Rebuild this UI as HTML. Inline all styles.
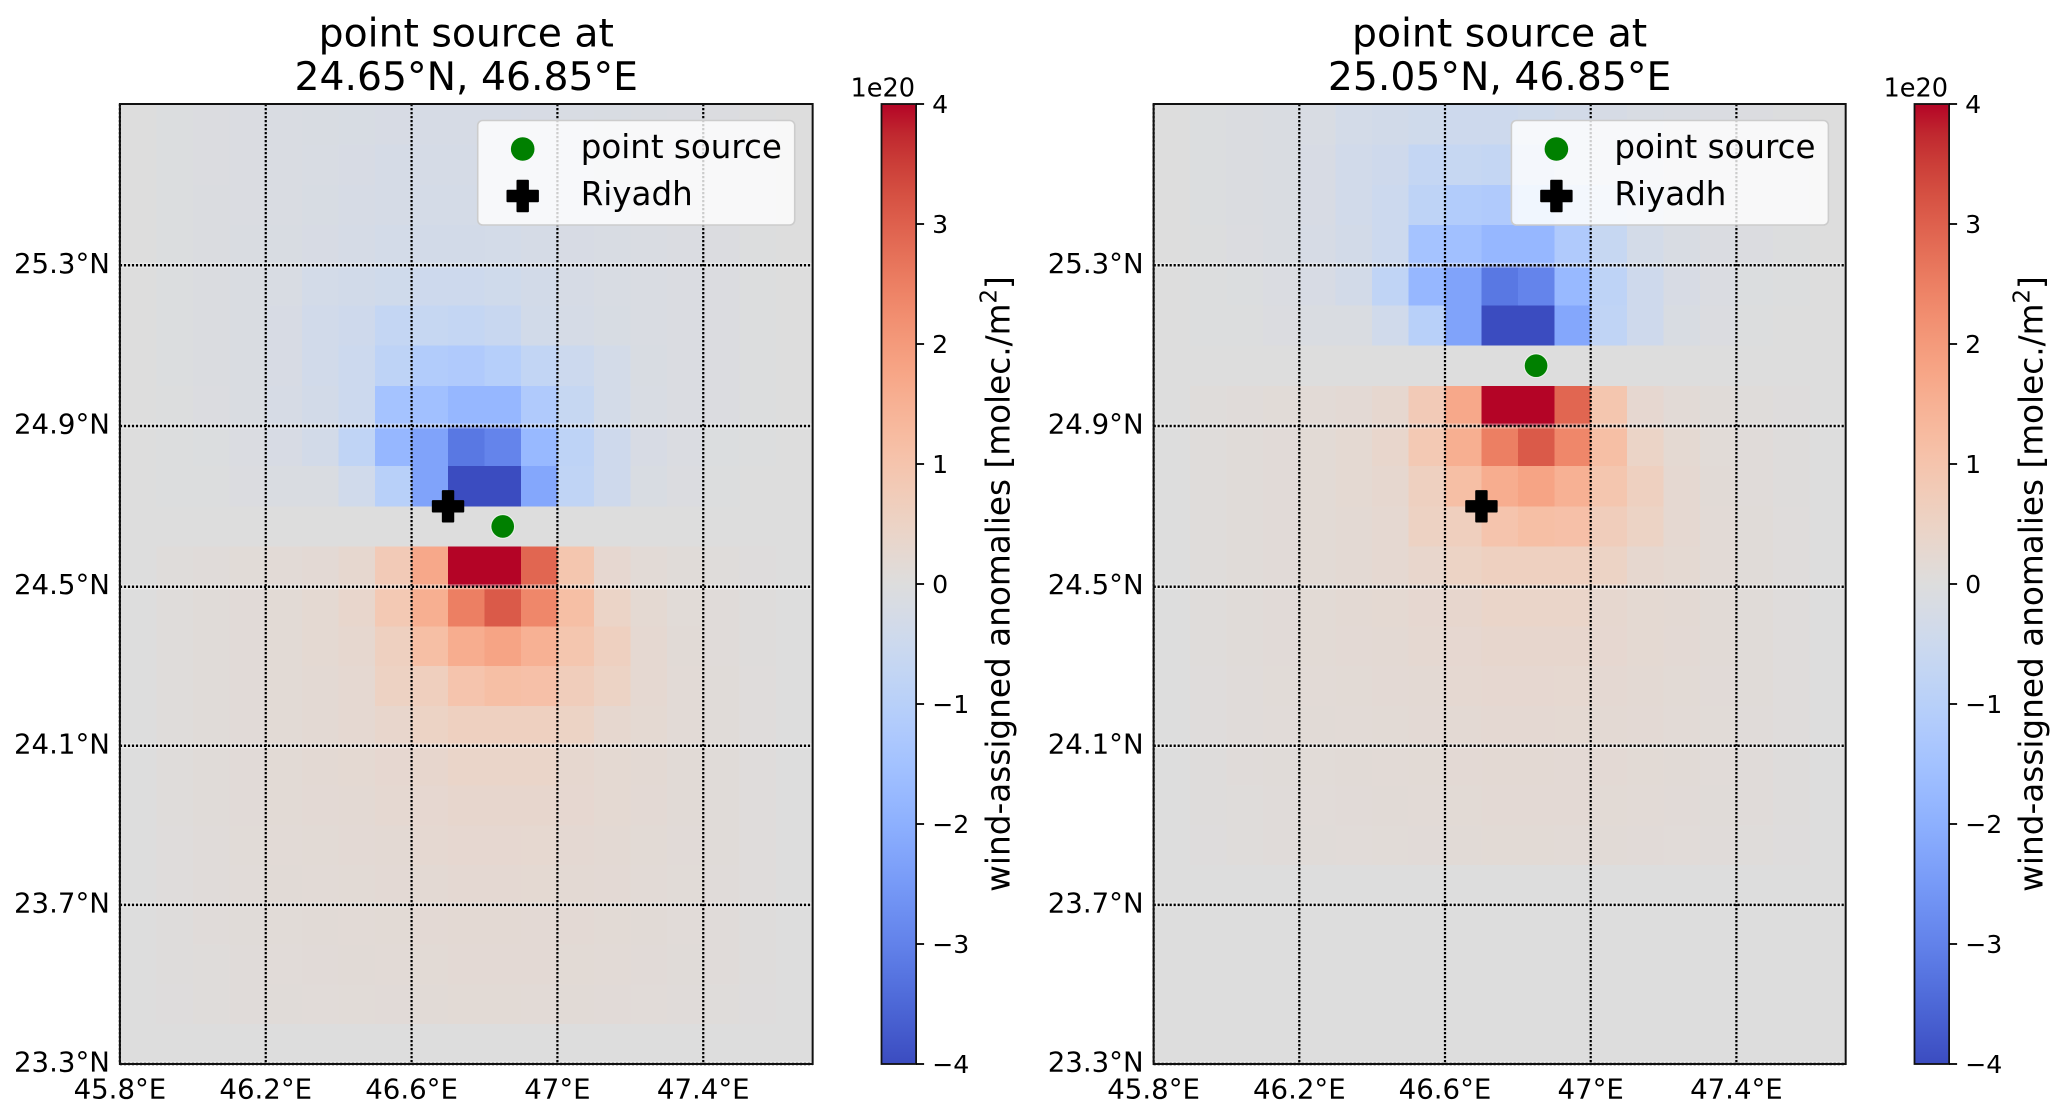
<!DOCTYPE html>
<html lang="en">
<head>
<meta charset="utf-8">
<title>Wind-assigned anomalies for two point sources</title>
<style>
  html, body { margin: 0; padding: 0; background: #ffffff; }
  svg { display: block; }
  text { font-family: "DejaVu Sans", "Liberation Sans", sans-serif; fill: #000; }
</style>
</head>
<body>
<svg id="figure" xmlns="http://www.w3.org/2000/svg" width="2067" height="1118" viewBox="0 0 2067 1118">
  <defs>
    <linearGradient id="coolwarm-gradient" x1="0" y1="1" x2="0" y2="0"></linearGradient>
  </defs>
  <rect x="0" y="0" width="2067" height="1118" fill="#ffffff"/>
  <g id="panel-left"></g>
  <g id="panel-right"></g>
</svg>
<script>
// ---- data (units of 1e20 molec./m2) ----
const lonStart = 45.8;
const latStart = 25.7;
const cellSize = 0.1;

const lonTicks = [45.8, 46.2, 46.6, 47.0, 47.4];
const lonTickLabels = ["45.8°E", "46.2°E", "46.6°E", "47°E", "47.4°E"];
const latTicks = [25.3, 24.9, 24.5, 24.1, 23.7, 23.3];
const latTickLabels = ["25.3°N", "24.9°N", "24.5°N", "24.1°N", "23.7°N", "23.3°N"];
const cbarTicks = [4, 3, 2, 1, 0, -1, -2, -3, -4];
const cbarTickLabels = ["4", "3", "2", "1", "0", "−1", "−2", "−3", "−4"];

const riyadhLocation = [46.7, 24.7];
const leftSourceLocation = [46.85, 24.65];
const rightSourceLocation = [46.85, 25.05];
const leftTitleLines = ["point source at", "24.65°N, 46.85°E"];
const rightTitleLines = ["point source at", "25.05°N, 46.85°E"];

const leftValues = [
  [0,-.05,-.07,-.1,-.13,-.15,-.18,-.2,-.22,-.22,-.22,-.2,-.17,-.15,-.12,-.1,-.07,-.04,0],
  [0,-.05,-.07,-.1,-.13,-.16,-.2,-.24,-.25,-.25,-.25,-.22,-.18,-.15,-.12,-.1,-.07,-.04,0],
  [0,-.05,-.08,-.1,-.14,-.18,-.22,-.26,-.28,-.28,-.28,-.24,-.2,-.16,-.12,-.1,-.07,-.04,0],
  [0,-.05,-.08,-.11,-.15,-.2,-.26,-.3,-.32,-.32,-.3,-.26,-.2,-.16,-.13,-.1,-.07,-.04,0],
  [0,-.05,-.08,-.12,-.16,-.3,-.35,-.42,-.48,-.47,-.42,-.32,-.22,-.17,-.13,-.1,-.07,-.04,0],
  [0,-.05,-.08,-.12,-.2,-.36,-.45,-.7,-.65,-.7,-.6,-.35,-.25,-.18,-.13,-.1,-.07,-.04,0],
  [0,-.05,-.08,-.12,-.2,-.36,-.5,-.85,-1.15,-1.2,-1.05,-.75,-.5,-.3,-.15,-.1,-.07,-.04,0],
  [0,-.04,-.07,-.12,-.22,-.32,-.5,-1.45,-1.55,-1.8,-1.8,-1.2,-.65,-.3,-.17,-.1,-.07,-.03,0],
  [0,-.03,-.06,-.1,-.2,-.32,-.8,-1.8,-2.3,-3.2,-2.95,-1.75,-.85,-.45,-.2,-.1,-.05,-.02,0],
  [0,-.02,-.04,-.07,-.12,-.12,-.4,-1.0,-2.3,-4,-4,-2.2,-.8,-.45,-.15,-.07,-.03,-.01,0],
  [0,0,0,0,0,0,0,0,0,0,0,0,0,0,0,0,0,0,0],
  [0,.06,.09,.12,.15,.18,.3,.8,1.7,4,4,2.9,.95,.28,.15,.1,.07,.03,0],
  [0,.06,.1,.13,.16,.22,.35,.85,1.55,2.5,3.1,2.35,1.15,.45,.22,.12,.08,.04,0],
  [0,.06,.1,.13,.17,.22,.3,.6,1.15,1.6,1.8,1.5,.95,.6,.24,.14,.09,.04,0],
  [0,.07,.1,.13,.17,.2,.26,.55,.65,1.0,1.15,1.1,.7,.5,.24,.15,.1,.05,0],
  [0,.07,.1,.13,.17,.2,.24,.35,.5,.6,.6,.6,.5,.3,.22,.15,.1,.05,0],
  [0,.07,.1,.13,.17,.2,.22,.28,.33,.42,.42,.42,.3,.22,.2,.14,.1,.05,0],
  [0,.06,.1,.13,.16,.18,.2,.24,.28,.33,.33,.33,.28,.22,.18,.14,.1,.05,0],
  [0,.05,.09,.12,.15,.17,.18,.2,.24,.28,.28,.27,.23,.2,.16,.13,.1,.05,0],
  [0,.05,.08,.11,.14,.15,.17,.18,.2,.23,.23,.22,.2,.18,.15,.12,.09,.05,0],
  [0,.04,.08,.1,.12,.14,.15,.17,.18,.2,.2,.19,.18,.16,.14,.11,.08,.04,0],
  [0,.04,.07,.09,.11,.13,.14,.15,.17,.18,.18,.18,.16,.15,.13,.1,.08,.04,0],
  [0,.03,.06,.08,.1,.11,.12,.13,.14,.16,.16,.15,.14,.13,.11,.09,.07,.03,0],
  [0,0,0,0,0,0,0,0,0,0,0,0,0,0,0,0,0,0,0]
];

const rightValues = [
  [0,-.05,-.08,-.12,-.16,-.3,-.35,-.42,-.48,-.47,-.42,-.32,-.22,-.17,-.13,-.1,-.07,-.04,0],
  [0,-.05,-.08,-.12,-.2,-.36,-.45,-.7,-.65,-.7,-.6,-.35,-.25,-.18,-.13,-.1,-.07,-.04,0],
  [0,-.05,-.08,-.12,-.2,-.36,-.5,-.85,-1.15,-1.2,-1.05,-.75,-.5,-.3,-.15,-.1,-.07,-.04,0],
  [0,-.04,-.07,-.12,-.22,-.32,-.5,-1.45,-1.55,-1.8,-1.8,-1.2,-.65,-.3,-.17,-.1,-.07,-.03,0],
  [0,-.03,-.06,-.1,-.2,-.32,-.8,-1.8,-2.3,-3.2,-2.95,-1.75,-.85,-.45,-.2,-.1,-.05,-.02,0],
  [0,-.02,-.04,-.07,-.12,-.12,-.4,-1.0,-2.3,-4,-4,-2.2,-.8,-.45,-.15,-.07,-.03,-.01,0],
  [0,0,0,0,0,0,0,0,0,0,0,0,0,0,0,0,0,0,0],
  [0,.06,.09,.12,.15,.18,.3,.8,1.7,4,4,2.9,.95,.28,.15,.1,.07,.03,0],
  [0,.06,.1,.13,.16,.22,.35,.85,1.55,2.5,3.1,2.35,1.15,.45,.22,.12,.08,.04,0],
  [0,.06,.1,.13,.17,.22,.3,.6,1.15,1.6,1.8,1.5,.95,.6,.24,.14,.09,.04,0],
  [0,.07,.1,.13,.17,.2,.26,.55,.65,1.0,1.15,1.1,.7,.5,.24,.15,.1,.05,0],
  [0,.07,.1,.13,.17,.2,.24,.35,.5,.6,.6,.6,.5,.3,.22,.15,.1,.05,0],
  [0,.07,.1,.13,.17,.2,.22,.28,.33,.42,.42,.42,.3,.22,.2,.14,.1,.05,0],
  [0,.06,.1,.13,.16,.18,.2,.24,.28,.33,.33,.33,.28,.22,.18,.14,.1,.05,0],
  [0,.05,.09,.12,.15,.17,.18,.2,.24,.28,.28,.27,.23,.2,.16,.13,.1,.05,0],
  [0,.05,.08,.11,.14,.15,.17,.18,.2,.23,.23,.22,.2,.18,.15,.12,.09,.05,0],
  [0,.04,.08,.1,.12,.14,.15,.17,.18,.2,.2,.19,.18,.16,.14,.11,.08,.04,0],
  [0,.04,.07,.09,.11,.13,.14,.15,.17,.18,.18,.18,.16,.15,.13,.1,.08,.04,0],
  [0,.03,.06,.08,.1,.11,.12,.13,.14,.16,.16,.15,.14,.13,.11,.09,.07,.03,0],
  [0,0,0,0,0,0,0,0,0,0,0,0,0,0,0,0,0,0,0],
  [0,0,0,0,0,0,0,0,0,0,0,0,0,0,0,0,0,0,0],
  [0,0,0,0,0,0,0,0,0,0,0,0,0,0,0,0,0,0,0],
  [0,0,0,0,0,0,0,0,0,0,0,0,0,0,0,0,0,0,0],
  [0,0,0,0,0,0,0,0,0,0,0,0,0,0,0,0,0,0,0]
];

const coolwarmStops = [
  [59,76,192],[68,90,204],[77,104,215],[87,117,225],[98,130,234],[108,142,241],[119,154,247],[130,165,251],
  [141,176,254],[152,185,255],[163,194,255],[174,201,253],[184,208,249],[194,213,244],[204,217,238],[213,219,230],
  [221,221,221],[229,216,209],[236,211,197],[241,204,185],[245,196,173],[247,187,160],[247,177,148],[247,166,135],
  [244,154,123],[241,141,111],[236,127,99],[229,112,88],[222,96,77],[213,80,66],[203,62,56],[192,40,47],[180,4,38]
];

// ---- scales ----
const NS = "http://www.w3.org/2000/svg";
const vMin = -4, vMax = 4;
const AXIS_TOP = 104, AXIS_BOTTOM = 1064;

function yLat(lat) {
  return lat >= 24.5 ? 586.7 - (lat - 24.5) * 401.8 : 586.7 + (24.5 - lat) * 397.7;
}
function yCbar(v) {
  return AXIS_BOTTOM - (v - vMin) / (vMax - vMin) * (AXIS_BOTTOM - AXIS_TOP);
}
function colorFor(v) {
  const t = Math.max(0, Math.min(1, (v - vMin) / (vMax - vMin))) * (coolwarmStops.length - 1);
  const i = Math.min(coolwarmStops.length - 2, Math.floor(t));
  const f = t - i;
  const a = coolwarmStops[i], b = coolwarmStops[i + 1];
  return "rgb(" + [0, 1, 2].map(function (k) { return Math.round(a[k] + (b[k] - a[k]) * f); }).join(",") + ")";
}
function el(parent, tag, attrs, txt) {
  const node = document.createElementNS(NS, tag);
  for (const k in attrs) node.setAttribute(k, attrs[k]);
  if (txt !== undefined) node.textContent = txt;
  parent.appendChild(node);
  return node;
}

// colorbar gradient derived from the colormap stops
const gradient = document.getElementById("coolwarm-gradient");
coolwarmStops.forEach(function (c, i) {
  el(gradient, "stop", { offset: i / (coolwarmStops.length - 1), "stop-color": "rgb(" + c.join(",") + ")" });
});

function drawPanel(group, opts) {
  const xLon = function (lon) { return opts.x0 + (lon - lonStart) * opts.pxPerDeg; };
  const right = xLon(47.7);
  const left = xLon(45.8);
  const center = (left + right) / 2;

  // heatmap cells
  const heat = el(group, "g", { "shape-rendering": "crispEdges" });
  
  
  opts.values.forEach(function (row, r) {
    row.forEach(function (v, c) {
      const x1 = xLon(lonStart + c * cellSize), x2 = xLon(lonStart + (c + 1) * cellSize);
      const y1 = yLat(latStart - r * cellSize), y2 = yLat(latStart - (r + 1) * cellSize);
      const cell = el(heat, "rect", { x: x1, y: y1, width: x2 - x1 + 0.5, height: y2 - y1 + 0.5, fill: colorFor(v) });
      
      
    });
  });

  // gridlines
  latTicks.forEach(function (lat, i) {
    const y = yLat(lat);
    const halo = el(group, "line", { x1: left, x2: right, y1: y, y2: y, stroke: "#ffffff", "stroke-width": 5, "stroke-opacity": 0.4 });
    
    
    const line = el(group, "line", { x1: left, x2: right, y1: y, y2: y, stroke: "#000", "stroke-width": 2.5, "stroke-dasharray": "2.2 1.8" });
    
    
    const label = el(group, "text", { x: left - 10, y: y + 7.5, "text-anchor": "end", "font-size": 27.6 }, latTickLabels[i]);
    
    
  });
  lonTicks.forEach(function (lon, i) {
    const x = xLon(lon);
    const line = el(group, "line", { x1: x, x2: x, y1: AXIS_TOP, y2: AXIS_BOTTOM, stroke: "#000", "stroke-width": 2.2, "stroke-dasharray": "2.2 1.8" });
    
    
    const label = el(group, "text", { x: x, y: 1098.7, "text-anchor": "middle", "font-size": 27.6 }, lonTickLabels[i]);
    
    
  });

  // markers on the map
  const riyadhX = xLon(riyadhLocation[0]), riyadhY = yLat(riyadhLocation[1]);
  const riyadh = el(group, "path", { d: plusPath(riyadhX, riyadhY), fill: "#000", stroke: "#000", "stroke-width": 2, "stroke-linejoin": "round" });
  
  
  const src = el(group, "circle", { cx: xLon(opts.source[0]), cy: yLat(opts.source[1]), r: 11.8, fill: "#008000", stroke: "#ffffff", "stroke-width": 1, "stroke-opacity": 0.8 });
  
  

  // axes frame
  const frame = el(group, "rect", { x: left, y: AXIS_TOP, width: right - left, height: AXIS_BOTTOM - AXIS_TOP, fill: "none", stroke: "#111", "stroke-width": 2 });
  
  

  // legend
  const legendX = left + 357.8;
  const legend = el(group, "g", {});
  
  
  const box = el(legend, "rect", { x: legendX, y: 120.5, width: 317, height: 104.5, rx: 5, ry: 5, fill: "#ffffff", "fill-opacity": 0.8, stroke: "#cccccc", "stroke-width": 1.6 });
  
  
  const keyX = legendX + 45;
  const keyDot = el(legend, "circle", { cx: keyX, cy: 149, r: 11.8, fill: "#008000" });
  
  
  const keyPlus = el(legend, "path", { d: plusPath(keyX, 196), fill: "#000", stroke: "#000", "stroke-width": 2, "stroke-linejoin": "round" });
  
  
  const t1 = el(legend, "text", { x: legendX + 103, y: 158, "font-size": 32.5 }, "point source");
  
  
  const t2 = el(legend, "text", { x: legendX + 103, y: 205, "font-size": 32.5 }, "Riyadh");
  
  

  // titles
  const title1 = el(group, "text", { x: center, y: 46.7, "text-anchor": "middle", "font-size": 39.3 }, opts.title[0]);
  
  
  const title2 = el(group, "text", { x: center, y: 90, "text-anchor": "middle", "font-size": 39.3 }, opts.title[1]);
  
  

  // colorbar
  const cbX = opts.cbarX, cbW = 34.6;
  const bar = el(group, "rect", { x: cbX, y: AXIS_TOP, width: cbW, height: AXIS_BOTTOM - AXIS_TOP, fill: "url(#coolwarm-gradient)", stroke: "#111", "stroke-width": 1.8 });
  
  
  cbarTicks.forEach(function (v, i) {
    const y = yCbar(v);
    const tick = el(group, "line", { x1: cbX + cbW, x2: cbX + cbW + 8, y1: y, y2: y, stroke: "#000", "stroke-width": 1.8 });
    
    
    const lab = el(group, "text", { x: cbX + cbW + 16, y: y + 9, "font-size": 25.2 }, cbarTickLabels[i]);
    
    
  });
  const offset = el(group, "text", { x: cbX + cbW - 1, y: 96.7, "text-anchor": "end", "font-size": 25.6 }, "1e20");
  
  

  const labelX = cbX + 128;
  const cbLabel = el(group, "text", { transform: "translate(" + labelX + " 584) rotate(-90)", "text-anchor": "middle", "font-size": 32.7 });
  
  
  cbLabel.appendChild(document.createTextNode("wind-assigned anomalies [molec./m"));
  el(cbLabel, "tspan", { dy: -13, "font-size": 22.9 }, "2");
  el(cbLabel, "tspan", { dy: 13 }, "]");
}

function plusPath(cx, cy) {
  const a = 15.2, b = 5.2;
  return "M" + (cx - b) + " " + (cy - a) + "H" + (cx + b) + "V" + (cy - b) + "H" + (cx + a) + "V" + (cy + b) +
    "H" + (cx + b) + "V" + (cy + a) + "H" + (cx - b) + "V" + (cy + b) + "H" + (cx - a) + "V" + (cy - b) + "H" + (cx - b) + "Z";
}

drawPanel(document.getElementById("panel-left"), {
  values: leftValues, source: leftSourceLocation, title: leftTitleLines,
  x0: 119.9, pxPerDeg: 364.6, cbarX: 881.5
});
drawPanel(document.getElementById("panel-right"), {
  values: rightValues, source: rightSourceLocation, title: rightTitleLines,
  x0: 1153.6, pxPerDeg: 364.25, cbarX: 1914.5
});
</script>
</body>
</html>
